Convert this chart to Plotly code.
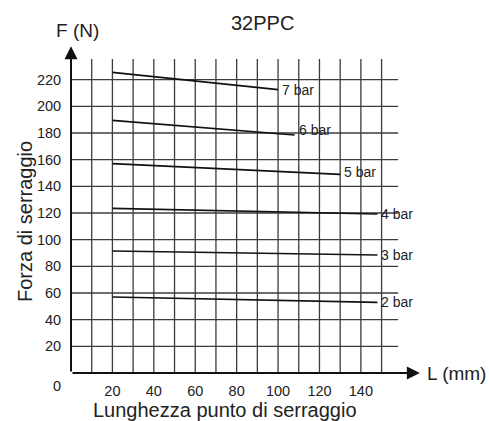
import plotly.graph_objects as go

# ---- data ----
pressures = ["2 bar", "3 bar", "4 bar", "5 bar", "6 bar", "7 bar"]
length_start = [20, 20, 20, 20, 20, 20]
length_end = [148, 148, 148, 130, 108, 100]
force_start = [57, 91.5, 123.5, 157, 189.5, 225.5]
force_end = [53, 88.5, 119.3, 149, 178.5, 212.5]

x_ticks = [20, 40, 60, 80, 100, 120, 140]
y_ticks = [20, 40, 60, 80, 100, 120, 140, 160, 180, 200, 220]
origin_label = "0"
x_grid = [10, 20, 30, 40, 50, 60, 70, 80, 90, 100, 110, 120, 130, 140, 150]
y_grid = [20, 40, 60, 80, 100, 120, 140, 160, 180, 200, 220]

# ---- style / layout constants ----
FONT = "Liberation Sans, Arial, sans-serif"
X_MAX, Y_MAX = 170, 244.5
GRID_X_END, GRID_Y_END = 158, 235.5
ARROW_X, ARROW_Y = 168.5, 245
label_dy = [0, 0, 0, -2, -5, 0]

W, H = 489, 421
ML, MR, MT, MB = 71, 66, 47, 48
PW, PH = W - ML - MR, H - MT - MB


def px(xp, yp):
    return (xp - ML) / PW, (H - MB - yp) / PH


fig = go.Figure()

for name, x0, x1, y0, y1 in zip(pressures, length_start, length_end, force_start, force_end):
    fig.add_trace(go.Scatter(x=[x0, x1], y=[y0, y1], mode="lines",
                             line=dict(color="#111111", width=1.6),
                             name=name, showlegend=False, hoverinfo="skip"))

shapes = []
for gx in x_grid:
    shapes.append(dict(type="line", xref="x", yref="y", x0=gx, x1=gx, y0=0, y1=GRID_Y_END,
                       line=dict(color="#3c3c3c", width=1.3), layer="below"))
for gy in y_grid:
    shapes.append(dict(type="line", xref="x", yref="y", x0=0, x1=GRID_X_END, y0=gy, y1=gy,
                       line=dict(color="#3c3c3c", width=1.3), layer="below"))

annotations = []
# axis arrows
for hx, hy in [(ARROW_X, 0), (0, ARROW_Y)]:
    annotations.append(dict(x=hx, y=hy, ax=0, ay=0, xref="x", yref="y", axref="x", ayref="y",
                            text="", showarrow=True, arrowhead=2, arrowsize=1.3, arrowwidth=2,
                            arrowcolor="#111111", standoff=0))
# series labels
for name, x1, y1, dy in zip(pressures, length_end, force_end, label_dy):
    annotations.append(dict(x=x1, y=y1, xref="x", yref="y", text=name, showarrow=False,
                            xanchor="left", yanchor="middle", xshift=2, yshift=-dy,
                            font=dict(family=FONT, size=14, color="#222222")))
for text, xp, yp, size, ang in [
    (origin_label, 57, 386, 14.5, 0),
    ("32PPC", 262, 23, 20, 0),
    ("F (N)", 77, 30, 19, 0),
    ("Forza di serraggio", 25, 222, 20, -90),
    ("Lunghezza punto di serraggio", 225, 410, 20, 0),
]:
    xx, yy = px(xp, yp)
    annotations.append(dict(x=xx, y=yy, xref="paper", yref="paper", text=text, showarrow=False,
                            xanchor="center", yanchor="middle", textangle=ang,
                            font=dict(family=FONT, size=size, color="#222222")))
xx, yy = px(425, 373)
annotations.append(dict(x=xx, y=yy, xref="paper", yref="paper", text="L (mm)", showarrow=False,
                        xanchor="left", yanchor="middle",
                        font=dict(family=FONT, size=19, color="#222222")))

fig.update_layout(
    width=W, height=H,
    margin=dict(l=ML, r=MR, t=MT, b=MB),
    paper_bgcolor="white", plot_bgcolor="white",
    shapes=shapes, annotations=annotations,
    xaxis=dict(range=[0, X_MAX], showgrid=False, zeroline=False, showline=False,
               tickvals=x_ticks, ticktext=[str(v) for v in x_ticks],
               ticks="outside", ticklen=5, tickcolor="rgba(0,0,0,0)",
               tickfont=dict(family=FONT, size=14.5, color="#222222")),
    yaxis=dict(range=[0, Y_MAX], showgrid=False, zeroline=False, showline=False,
               tickvals=y_ticks, ticktext=[str(v) for v in y_ticks],
               ticks="outside", ticklen=6, tickcolor="rgba(0,0,0,0)",
               tickfont=dict(family=FONT, size=14.5, color="#222222")),
)

fig.write_html("out.html", config={"displayModeBar": False, "staticPlot": True},
               post_script="document.body.style.margin='0';document.body.style.overflow='hidden';")
